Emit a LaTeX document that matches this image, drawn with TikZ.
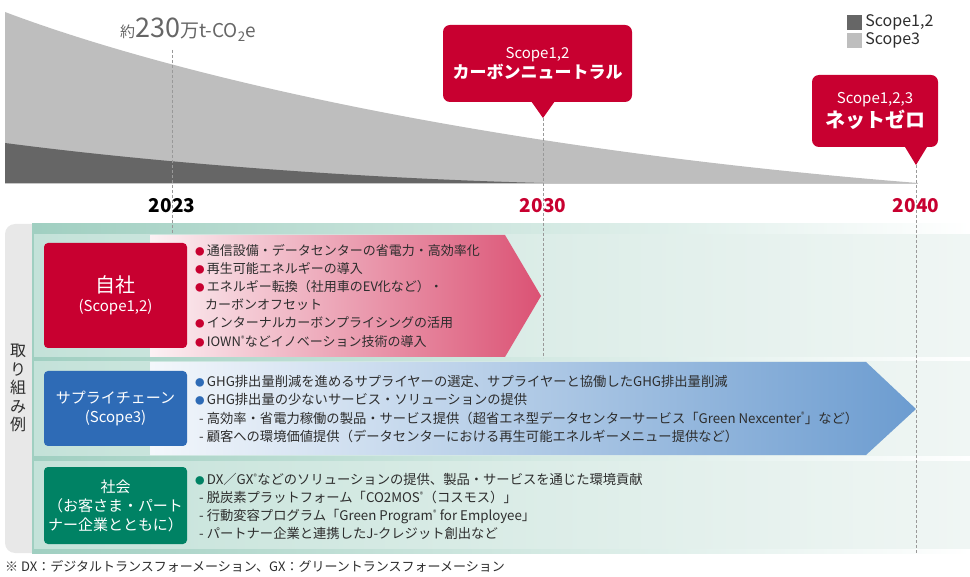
\documentclass[tikz,border=0pt]{standalone}
\usepackage{fontspec}
\setmainfont{Noto Sans CJK JP}
\usepackage{xcolor}
\definecolor{nttred}{RGB}{200,0,48}
\definecolor{scopeblue}{RGB}{46,107,182}
\definecolor{socgreen}{RGB}{0,130,100}
\definecolor{lightgray3}{RGB}{190,190,190}
\definecolor{darkgray12}{RGB}{102,102,102}
\definecolor{panelteal}{RGB}{160,207,193}
\definecolor{bandteal}{RGB}{196,226,217}
\definecolor{bandwhite}{RGB}{240,246,244}
\definecolor{arrowred}{RGB}{219,82,116}
\definecolor{arrowblue}{RGB}{108,156,208}
\definecolor{txtgray}{RGB}{45,45,45}
\usetikzlibrary{positioning, calc}
\tikzset{
  catbox/.style={
    rectangle, rounded corners=4pt, fill=#1,
    minimum width=143pt, align=center, text=white,
    font=\fontsize{15}{19}\selectfont
  },
  calloutbox/.style={
    rectangle, rounded corners=7pt, fill=nttred,
    align=center, text=white, inner sep=0pt
  },
  bultext/.style={
    anchor=west, align=left, inner sep=0pt, text=txtgray,
    font=\fontsize{#1}{18.2}\selectfont
  },
  yearlbl/.style={font=\fontsize{19}{19}\selectfont\bfseries, text=#1},
  yearline/.style={dashed, dash pattern=on 3pt off 2pt, draw=gray!80, line width=0.8pt},
  legendsq/.style={fill=#1, minimum size=15pt, inner sep=0pt},
  rowband/.style={left color=bandteal, right color=bandwhite},
}
\newcommand{\bul}[1]{\textcolor{#1}{\fontsize{9.5}{9}\selectfont ●}\,}
\newcommand{\regmark}{\textsuperscript{\fontsize{7}{7}\selectfont ®}}

\begin{document}
\begin{tikzpicture}[x=1pt, y=-1pt]
  \useasboundingbox (0,0) rectangle (970,577);

  % --- Grafico de emisiones: Scope3 y Scope1,2 ---
  \fill[lightgray3] (5,183) -- (5,12) .. controls (180,78) and (500,150) .. (918,183) -- cycle;
  \fill[darkgray12] (5,183) -- (5,143) .. controls (150,162) and (350,178) .. (543,183) -- cycle;
  \draw[gray!45, line width=0.8pt] (5,183) -- (918,183);

  \node (emis) [anchor=base west, inner sep=0pt, text=darkgray12] at (120,38)
        {{\fontsize{15}{15}\selectfont 約}{\fontsize{27}{27}\selectfont 230}{\fontsize{19}{19}\selectfont 万t-CO\textsubscript{2}e}};

  % --- Leyenda ---
  \node (sq12) [legendsq=darkgray12] at (854.5,22.5) {};
  \node (sq3)  [legendsq=lightgray3]  at (854.5,40.5) {};
  \node (lg12) [right=3pt of sq12, inner sep=0pt, text=txtgray, font=\fontsize{16}{16}\selectfont] {Scope1,2};
  \node (lg3)  [right=3pt of sq3,  inner sep=0pt, text=txtgray, font=\fontsize{16}{16}\selectfont] {Scope3};

  % --- Anos ---
  \node (y23) [yearlbl=black]  at (172,206) {2023};
  \node (y30) [yearlbl=nttred] at (543,206) {2030};
  \node (y40) [yearlbl=nttred] at (916,206) {2040};

  % --- Globos rojos ---
  \node (cn) [calloutbox, minimum width=189pt, minimum height=77pt] at (537.5,63.5)
        {{\fontsize{15}{18}\selectfont Scope1,2}\\[2pt]{\fontsize{17}{22}\selectfont\bfseries カーボンニュートラル}};
  \coordinate (tip30) at (543,118);
  \fill[nttred] ($(tip30)+(-12,-17)$) -- (tip30) -- ($(tip30)+(12,-17)$) -- cycle;

  \node (nz) [calloutbox, minimum width=126pt, minimum height=72pt] at (875,111)
        {{\fontsize{15}{18}\selectfont Scope1,2,3}\\[2pt]{\fontsize{20}{24}\selectfont\bfseries ネットゼロ}};
  \coordinate (tip40) at (916,165);
  \fill[nttred] ($(tip40)+(-11,-18)$) -- (tip40) -- ($(tip40)+(11,-18)$) -- cycle;

  % --- Panel de iniciativas ---
  \fill[gray!18, rounded corners=10pt] (5,224) rectangle (968,553);
  \shade[left color=panelteal, right color=white] (32,224) rectangle (970,553);
  \shade[rowband] (34,235) rectangle (970,357);
  \shade[rowband] (34,362) rectangle (970,455);
  \shade[rowband] (34,461) rectangle (970,548);

  \node (torikumi) [align=center, text=txtgray, font=\fontsize{16}{18.5}\selectfont] at (18,388)
        {取\\り\\組\\み\\例};

  % --- Lineas de los anos ---
  \coordinate (top23) at (172,50);
  \coordinate (bot23) at (172,240);
  \coordinate (bot30) at (543,358);
  \coordinate (bot40) at (916,553);
  \draw[yearline] (top23) -- (bot23);
  \draw[yearline] (tip30) -- (bot30);
  \draw[yearline] (tip40) -- (bot40);

  % --- Flechas de fondo ---
  \shade[left color=white!92!arrowred, right color=arrowred]
        (150,235) -- (505,235) -- (541,296) -- (505,357) -- (150,357) -- cycle;
  \shade[left color=white!92!arrowblue, right color=arrowblue]
        (150,362) -- (866,362) -- (916,409) -- (866,455) -- (150,455) -- cycle;

  % --- Fila 1: 自社 ---
  \node (own) [catbox=nttred, minimum height=105pt] at (115.5,295.5)
        {{\fontsize{20}{24}\selectfont 自社}\\(Scope1,2)};
  \node (ownlist) [bultext=13] at (195,295.5)
        {\bul{nttred}通信設備・データセンターの省電力・高効率化\\
         \bul{nttred}再生可能エネルギーの導入\\
         \bul{nttred}エネルギー転換（社用車のEV化など）・\\
         \hspace{10pt}カーボンオフセット\\
         \bul{nttred}インターナルカーボンプライシングの活用\\
         \bul{nttred}IOWN\regmark などイノベーション技術の導入};

  % --- Fila 2: サプライチェーン ---
  \node (supply) [catbox=scopeblue, minimum height=75pt] at (115.5,408.5)
        {サプライチェーン\\(Scope3)};
  \node (supplist) [bultext=13.3] at (195,409)
        {\bul{scopeblue}GHG排出量削減を進めるサプライヤーの選定、サプライヤーと協働したGHG排出量削減\\
         \bul{scopeblue}GHG排出量の少ないサービス・ソリューションの提供\\
         \hspace{4pt}- 高効率・省電力稼働の製品・サービス提供（超省エネ型データセンターサービス「Green Nexcenter\regmark」など）\\
         \hspace{4pt}- 顧客への環境価値提供（データセンターにおける再生可能エネルギーメニュー提供など）};

  % --- Fila 3: 社会 ---
  \node (society) [catbox=socgreen, minimum height=77pt] at (115.5,505.5)
        {社会\\（お客さま・パート\\ナー企業とともに）};
  \node (soclist) [bultext=13.3] at (195,506.5)
        {\bul{socgreen}DX／GX\regmark などのソリューションの提供、製品・サービスを通じた環境貢献\\
         \hspace{4pt}- 脱炭素プラットフォーム「CO2MOS\regmark（コスモス）」\\
         \hspace{4pt}- 行動変容プログラム「Green Program\regmark\ for Employee」\\
         \hspace{4pt}- パートナー企業と連携したJ-クレジット創出など};

  % --- Nota ---
  \node (note) [anchor=west, inner sep=0pt, text=txtgray, font=\fontsize{13}{14}\selectfont] at (5,566)
        {※ DX：デジタルトランスフォーメーション、GX：グリーントランスフォーメーション};

\end{tikzpicture}
\end{document}
